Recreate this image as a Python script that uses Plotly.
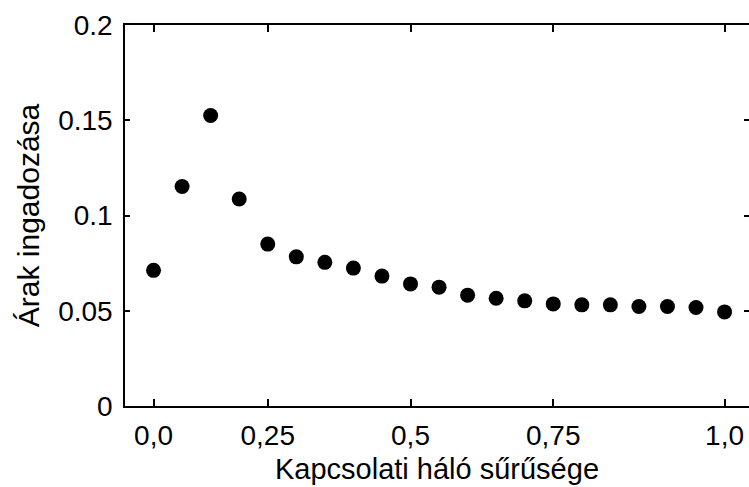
import plotly.graph_objects as go

x_vals = [0.00, 0.05, 0.10, 0.15, 0.20, 0.25, 0.30, 0.35, 0.40, 0.45, 0.50,
          0.55, 0.60, 0.65, 0.70, 0.75, 0.80, 0.85, 0.90, 0.95, 1.00]
y_vals = [0.0712, 0.1152, 0.1525, 0.1087, 0.0850, 0.0783, 0.0754, 0.0724, 0.0682, 0.0641, 0.0624,
          0.0582, 0.0566, 0.0552, 0.0536, 0.0531, 0.0531, 0.0522, 0.0522, 0.0517, 0.0494]

x_tickvals = [0.0, 0.2, 0.45, 0.7, 1.0]
x_ticktext = ["0,0", "0,25", "0,5", "0,75", "1,0"]
y_tickvals = [0, 0.05, 0.1, 0.15, 0.2]
y_ticktext = ["0", "0.05", "0.1", "0.15", "0.2"]

FONT = "Arial, Liberation Sans, sans-serif"

fig = go.Figure()
fig.add_trace(go.Scatter(x=x_vals, y=y_vals, mode="markers",
                         marker=dict(size=15, color="black"), hoverinfo="skip"))
fig.add_trace(go.Scatter(x=x_vals, y=y_vals, mode="markers", yaxis="y2",
                         marker=dict(size=15, color="black", opacity=0), hoverinfo="skip"))

fig.update_layout(
    width=749, height=487,
    margin=dict(l=125, r=0, t=25, b=81, pad=0),
    paper_bgcolor="white", plot_bgcolor="white",
    showlegend=False,
    font=dict(family=FONT, color="black", size=28),
    xaxis=dict(range=[-0.05, 1.0428], tickvals=x_tickvals, ticktext=x_ticktext,
               showgrid=False, zeroline=False, showline=True, linecolor="black", linewidth=1.5,
               mirror="ticks", ticks="inside", ticklen=7, tickcolor="black", tickwidth=1.5,
               tickfont=dict(size=28), ticklabelstandoff=4,
               title=dict(text="Kapcsolati háló sűrűsége", font=dict(size=29), standoff=8)),
    yaxis=dict(range=[0, 0.2], tickvals=y_tickvals, ticktext=y_ticktext,
               showgrid=False, zeroline=False, showline=True, linecolor="black", linewidth=1.5,
               ticks="inside", ticklen=5, tickcolor="black", tickwidth=1.5,
               tickfont=dict(size=28), ticklabelstandoff=5,
               title=dict(text="Árak ingadozása", font=dict(size=30), standoff=10)),
    yaxis2=dict(range=[0, 0.2], tickvals=y_tickvals, overlaying="y", side="right",
                showgrid=False, zeroline=False, showline=False, showticklabels=False,
                ticks="inside", ticklen=5, tickcolor="black", tickwidth=1.5),
)

fig.write_html("out.html")
